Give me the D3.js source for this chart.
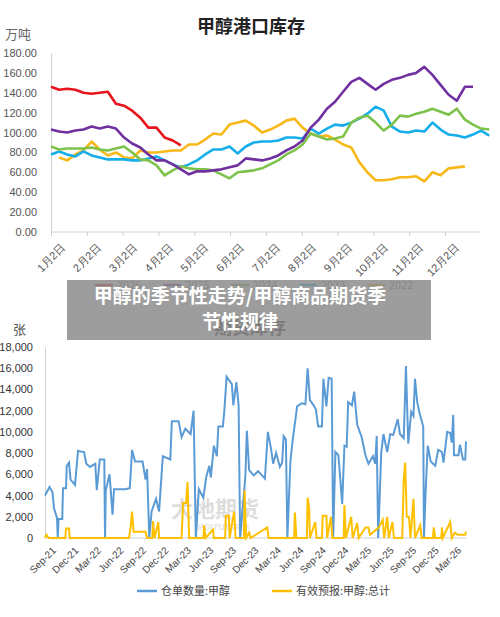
<!DOCTYPE html><html><head><meta charset="utf-8"><script src="https://cdn.jsdelivr.net/npm/d3@7"></script>
<style>body{margin:0;background:#fff}svg{display:block;font-family:"Noto Sans CJK SC","Noto Sans",sans-serif}</style></head><body><svg id="c" width="500" height="617"></svg>
<script>
// ---- top chart data (weekly, week index) ----
const topMonths=["1月2日","2月2日","3月2日","4月2日","5月2日","6月2日","7月2日","8月2日","9月2日","10月2日","11月2日","12月2日"];
const topYTicks=[0,20,40,60,80,100,120,140,160,180];
const s2026=[146,143,144,143,140,139,140,141,129,127,122,115,105,105,95,92,87];
const s2025=[103,101,100,102,103,106,104,106,104,95,89,85,78,72,72,68,63,58,61,61,62,63,65,67,74,73,72,74,77,82,86,92,105,113,124,131,141,151,155,149,143,149,153,155,158,160,166,158,148,138,132,146,146];
const s2024=[86,83,84,84,84,85,83,82,84,86,80,73,72,67,57,62,66,64,63,63,62,58,54,60,61,62,64,68,72,78,82,88,99,96,93,94,96,110,115,117,110,102,108,117,116,119,121,124,121,118,124,113,108,104,103];
const s2023=[78,81,78,76,81,77,75,73,73,73,72,72,74,76,72,68,65,68,72,78,83,83,86,79,86,90,91,91,92,95,95,94,104,99,104,108,107,110,114,119,126,122,106,101,100,102,101,110,103,98,97,95,98,102,97];
const s2022=[75,72,78,82,91,83,77,80,75,74,82,80,80,81,82,82,88,88,93,99,98,108,110,112,107,100,103,107,112,114,105,99,96,97,93,88,85,70,60,52,52,53,55,55,56,51,60,57,64,65,66];
const topSeries=[{name:"2026",v:s2026,start:0,c:"#e8141b"},{name:"2025",v:s2025,start:0,c:"#7030a0"},{name:"2024",v:s2024,start:0,c:"#7dc24b"},{name:"2023",v:s2023,start:0,c:"#15aee8"},{name:"2022",v:s2022,start:1,c:"#f7b818"}];
// ---- bottom chart data (months since Sep-21) ----
const botTicks=["Sep-21","Dec-21","Mar-22","Jun-22","Sep-22","Dec-22","Mar-23","Jun-23","Sep-23","Dec-23","Mar-24","Jun-24","Sep-24","Dec-24","Mar-25","Jun-25","Sep-25","Dec-25","Mar-26"];
const botYTicks=[0,2000,4000,6000,8000,10000,12000,14000,16000,18000];
const blueM=[0,0.6,1.0,1.2,1.6,1.7,1.8,2.3,2.4,2.8,2.9,3.2,3.4,4.0,4.4,5.2,5.5,6.0,6.7,6.9,7.3,7.9,8.0,8.1,8.6,9.0,9.2,10.7,11.3,11.6,12.0,13.0,13.4,13.6,13.9,14.2,14.8,15.2,15.7,16.7,16.9,17.8,18.2,18.7,19.4,19.8,20.1,20.5,21.1,21.5,21.9,22.1,22.5,22.9,23.1,23.7,23.9,24.2,24.9,25.1,25.5,25.8,26.0,26.7,26.9,27.2,27.8,28.4,29.3,29.7,30.1,30.4,30.8,31.3,31.6,31.8,32.1,32.3,32.7,33.0,33.6,34.2,34.7,35.0,35.3,35.8,36.1,36.4,36.9,37.1,37.5,37.8,38.2,38.4,38.7,39.1,39.6,39.9,40.2,40.4,40.9,41.2,41.6,42.2,42.7,43.1,43.7,44.0,44.2,44.4,44.8,45.1,45.6,46.0,46.4,47.0,47.3,47.8,48.1,48.4,48.8,49.1,49.3,49.6,49.9,50.4,50.5,50.7,51.0,51.4,52.0,52.4,52.9,53.1,53.6,54.0,54.2,54.4,54.5,55.1,55.3,55.7,56.0,56.1];
const blueV=[4000,4800,4300,2800,1900,0,1800,1800,4700,4700,6800,7100,5500,5000,8200,8100,7000,6700,7000,4500,7400,7400,0,4500,6000,2200,4600,4600,4700,8300,7200,7200,5500,6500,0,2500,3700,2500,7700,7400,11000,11000,9500,10300,9800,12000,0,4600,3800,5800,6800,5700,8700,7700,10500,10500,12000,15200,14500,12500,14700,12500,0,5800,10100,6400,5900,6300,5600,10000,8500,7000,8000,6700,7100,9600,9300,0,7200,9200,12400,12700,12600,16000,13000,12500,12100,10500,10500,15000,12400,15100,15000,0,8100,7800,3200,8700,8600,12800,12500,13800,10700,9500,7800,7000,7700,7000,9600,0,8000,9800,8100,9800,9700,11200,9800,9400,16200,8900,11900,11500,15000,12800,11800,10500,0,4000,8700,7200,6800,8300,8100,7100,10000,9900,9000,11600,7800,7800,8800,7400,7400,9100];
const yelM=[0,0.2,0.5,2.7,2.8,3.2,3.3,11.2,11.4,11.6,11.8,13.4,13.6,14.3,14.4,14.6,15.1,15.2,18.2,18.4,18.8,19.0,19.2,21.1,21.2,21.4,22.4,22.5,24.0,24.1,24.5,24.6,25.2,25.4,26.5,26.6,26.8,27.2,27.4,29.6,29.8,33.2,33.3,33.5,34.9,35.0,35.2,35.3,36.0,36.2,36.9,37.0,37.5,37.6,38.1,38.3,39.8,39.9,40.1,40.8,41.0,41.6,41.8,42.7,43.1,43.3,44.5,45.0,45.2,45.6,45.8,46.3,46.5,47.6,47.8,48.0,48.2,48.5,48.7,49.1,49.3,50.0,50.2,51.7,51.8,52.0,52.8,52.9,53.0,54.0,54.2,54.6,55.0,56.0,56.1];
const yelV=[0,300,0,0,900,900,0,0,1000,2500,600,600,0,0,1600,0,1500,0,0,3300,3300,5300,0,0,1200,0,800,0,0,2100,2100,0,2500,0,0,4500,0,500,0,1000,0,0,2400,0,0,3800,2800,0,1500,0,0,2100,2100,0,2000,0,0,3100,0,2000,0,1400,0,1000,1000,300,1000,1700,0,2000,0,1500,0,0,5500,7100,2000,2000,0,3700,0,1200,0,0,1000,0,0,1000,0,1500,0,500,300,300,600];

const svg=d3.select("#c");
// ---- top chart ----
const tx=d3.scaleLinear().domain([0,52]).range([51,473]);
const ty=d3.scaleLinear().domain([0,180]).range([232,53]);
svg.append("text").attr("x",251).attr("y",33).attr("text-anchor","middle").attr("font-size",18).attr("font-weight","bold").attr("fill","#222").text("甲醇港口库存");
svg.append("text").attr("x",5).attr("y",39).attr("font-size",13).attr("fill","#666").text("万吨");
const tya=svg.append("g").attr("transform","translate(51,0)").call(d3.axisLeft(ty).tickValues(topYTicks).tickFormat(d3.format(".2f")).tickSize(0).tickPadding(14));
tya.selectAll("text").attr("font-size",11).attr("fill","#555").attr("font-family","Liberation Sans");
tya.select(".domain").attr("stroke","#d0d0d0");
const mx=d3.scalePoint().domain(topMonths).range([51,445]);
const txa=svg.append("g").attr("transform","translate(0,232)").call(d3.axisBottom(mx).tickSize(4));
txa.select(".domain").attr("d","M51,0H480").attr("stroke","#d0d0d0");
txa.selectAll("line").attr("stroke","#d0d0d0");
txa.selectAll("text").attr("font-size",11).attr("fill","#555").attr("text-anchor","end").attr("transform","translate(4,6) rotate(-45)");
const tl=d3.line().x((d,i)=>d[0]).y(d=>d[1]);
topSeries.slice().reverse().forEach(s=>{
  svg.append("path").attr("d",tl(s.v.map((v,i)=>[tx(s.start+i),ty(v)]))).attr("fill","none").attr("stroke",s.c).attr("stroke-width",2.6).attr("stroke-linejoin","round");
});
// top legend (partly hidden)
topSeries.forEach((s,i)=>{
  const x0=95+i*68;
  svg.append("line").attr("x1",x0).attr("x2",x0+18).attr("y1",285).attr("y2",285).attr("stroke",s.c).attr("stroke-width",2.5);
  svg.append("text").attr("x",x0+22).attr("y",289).attr("font-size",11).attr("fill","#666").text(s.name);
});
// ---- bottom chart ----
const bx=d3.scaleLinear().domain([0,56.1]).range([45,466]);
const by=d3.scaleLinear().domain([0,18000]).range([538,347]);
svg.append("text").attr("x",250).attr("y",334).attr("text-anchor","middle").attr("font-size",18).attr("font-weight","bold").attr("fill","#222").text("期货库存");
svg.append("text").attr("x",13).attr("y",334).attr("font-size",13).attr("fill","#555").text("张");
svg.append("text").attr("x",215).attr("y",517).attr("text-anchor","middle").attr("font-size",22).attr("font-weight","bold").attr("fill","#c8c8c8").attr("opacity",0.6).text("大地期货");
svg.append("text").attr("x",222).attr("y",530).attr("text-anchor","middle").attr("font-size",8).attr("fill","#c8c8c8").attr("opacity",0.7).text("DADI FUTURES");
const bya=svg.append("g").attr("transform","translate(45,0)").call(d3.axisLeft(by).tickValues(botYTicks).tickFormat(d3.format(",")).tickSize(0).tickPadding(12));
bya.selectAll("text").attr("font-size",11).attr("fill","#333").attr("font-family","Liberation Sans");
bya.select(".domain").attr("stroke","#d0d0d0");
const bxa=svg.append("g").attr("transform","translate(0,538)").call(d3.axisBottom(bx).tickValues(botTicks.map((d,i)=>i*3)).tickFormat((d,i)=>botTicks[i]).tickSize(0));
bxa.select(".domain").attr("d","M45,0H466").attr("stroke","#d0d0d0");
bxa.selectAll("text").attr("font-size",10).attr("fill","#444").attr("font-family","Liberation Sans").attr("text-anchor","end").attr("transform","translate(4,6) rotate(-45)");
const bl=d3.line().x(d=>bx(d[0])).y(d=>by(d[1]));
svg.append("path").attr("d",bl(blueM.map((m,i)=>[m,blueV[i]]))).attr("fill","none").attr("stroke","#5b9bd5").attr("stroke-width",2);
svg.append("path").attr("d",bl(yelM.map((m,i)=>[m,yelV[i]]))).attr("fill","none").attr("stroke","#ffc000").attr("stroke-width",2);
[["仓单数量:甲醇","#5b9bd5",137],["有效预报:甲醇:总计","#ffc000",272]].forEach(([t,c,x0])=>{
  svg.append("line").attr("x1",x0).attr("x2",x0+20).attr("y1",591).attr("y2",591).attr("stroke",c).attr("stroke-width",2.5);
  svg.append("text").attr("x",x0+24).attr("y",595).attr("font-size",11).attr("fill","#444").text(t);
});
// ---- overlay banner ----
svg.append("rect").attr("x",67).attr("y",280).attr("width",364).attr("height",60).attr("fill","#8c8c8c").attr("opacity",0.85);
svg.append("text").attr("x",240).attr("y",303).attr("text-anchor","middle").attr("font-size",19).attr("font-weight","bold").attr("fill","#fff").text("甲醇的季节性走势/甲醇商品期货季");
svg.append("text").attr("x",240).attr("y",329).attr("text-anchor","middle").attr("font-size",19).attr("font-weight","bold").attr("fill","#fff").text("节性规律");
</script></body></html>
